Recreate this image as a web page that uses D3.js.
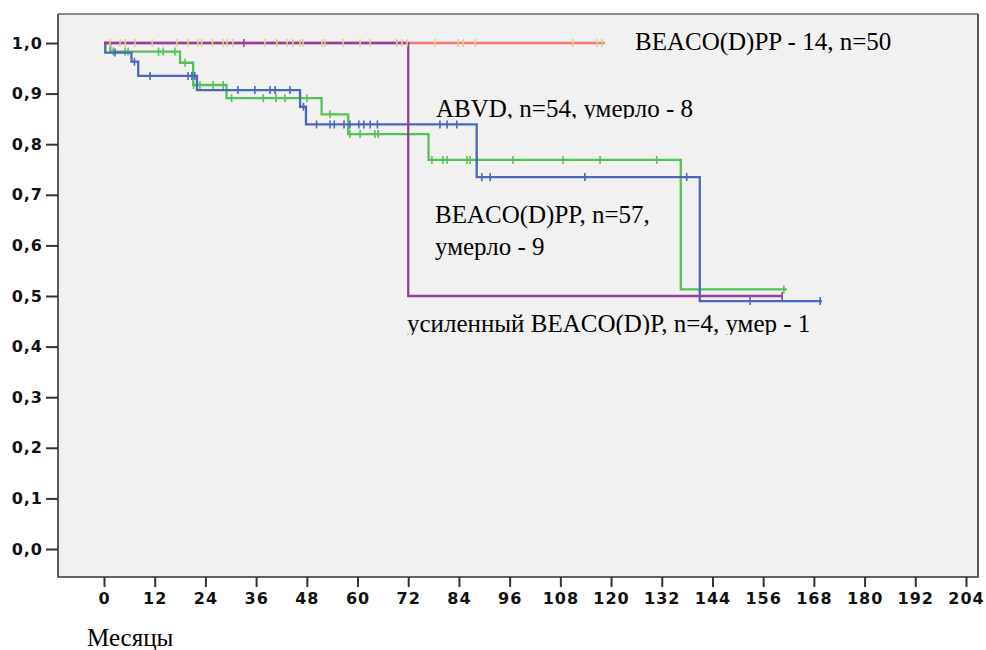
<!DOCTYPE html>
<html>
<head>
<meta charset="utf-8">
<script src="https://cdn.jsdelivr.net/npm/d3@7"></script>
<style>
  html, body { margin: 0; padding: 0; background: #ffffff; }
  svg { display: block; }
</style>
</head>
<body>
<svg id="chart" width="986" height="650"></svg>
<script>
// ---------------- data ----------------
const xTicks = [0, 12, 24, 36, 48, 60, 72, 84, 96, 108, 120, 132, 144, 156, 168, 180, 192, 204];
const yTicks = [0, 0.1, 0.2, 0.3, 0.4, 0.5, 0.6, 0.7, 0.8, 0.9, 1.0];

// ABVD, n=54 (blue)
const abvdEventTimes = [0.3, 6.5, 8.1, 22, 46.4, 47.8, 88.2, 141];
const abvdSurvival   = [0.981, 0.963, 0.935, 0.907, 0.874, 0.839, 0.735, 0.49];
const abvdEnd = 169.9;
const abvdCensored = [2.6, 7.2, 10.9, 19.9, 20.8, 21.5, 31.7, 35.7, 39.3, 40.5, 44, 47.2, 50.3, 53.5, 54.5, 56.8, 58.2, 60.3, 61.5, 63, 64.7, 79.5, 81.2, 83.5, 89.4, 91.4, 113.8, 137.9, 152.9, 169.5];

// BEACO(D)PP, n=57 (green)
const beacoEventTimes = [1.5, 18, 21.1, 29, 51.5, 57.8, 76.8, 136.5];
const beacoSurvival   = [0.983, 0.961, 0.917, 0.891, 0.859, 0.82, 0.769, 0.513];
const beacoEnd = 161.6;
const beacoCensored = [2.2, 5, 5.7, 12.9, 14, 16.8, 19.2, 21.2, 22.7, 25.8, 28.2, 30.2, 37.7, 40.7, 42.8, 48, 53.5, 58.2, 60.6, 64.1, 64.9, 77.6, 80.2, 81.2, 85.9, 86.6, 88.3, 96.8, 108.6, 117.4, 130.8, 160.9];

// BEACO(D)PP - 14, n=50 (red line, tan censor marks)
const b14EventTimes = [];
const b14Survival   = [];
const b14End = 118.5;
const b14Censored = [1.4, 3.8, 5, 7.3, 11.4, 17.3, 19.9, 22.2, 23.1, 25.7, 28.2, 29.1, 30.5, 38.1, 40.9, 43.3, 44.7, 46.4, 47.1, 51.6, 52.3, 56.6, 60.6, 63, 69.3, 70.5, 71.7, 78.3, 83.8, 85, 87.8, 111, 116.7, 117.9];

// усиленный BEACO(D)P, n=4 (purple)
const intEventTimes = [72];
const intSurvival   = [0.5];
const intEnd = 160.5;
const intCensored = [33.1, 160.5];

const labels = [
  { text: "BEACO(D)PP - 14, n=50", x: 635, y: 50, clip: null },
  { text: "ABVD, n=54, умерло - 8", x: 436, y: 117, clip: 118.5 },
  { text: "BEACO(D)PP, n=57,", x: 435, y: 223, clip: null },
  { text: "умерло - 9", x: 435, y: 255, clip: null },
  { text: "усиленный BEACO(D)P, n=4, умер - 1", x: 407, y: 332, clip: 335 }
];

// ---------------- drawing ----------------
const svg = d3.select("#chart");
const frame = { left: 58, top: 14, right: 978, bottom: 577 };

const x = d3.scaleLinear().domain([0, 204]).range([104, 966]);
const y = d3.scaleLinear().domain([0, 1]).range([549, 43]);

// plot background
svg.append("rect")
  .attr("x", frame.left).attr("y", frame.top)
  .attr("width", frame.right - frame.left).attr("height", frame.bottom - frame.top)
  .attr("fill", "#f1f1f1");

function stepPoints(times, surv, end) {
  const pts = [[0, 1]];
  let s = 1;
  times.forEach((t, i) => {
    pts.push([t, s]);
    s = surv[i];
    pts.push([t, s]);
  });
  pts.push([end, s]);
  return pts;
}
function survAt(times, surv, t) {
  let s = 1;
  times.forEach((tt, i) => { if (tt <= t) s = surv[i]; });
  return s;
}
const line = d3.line().x(d => x(d[0])).y(d => y(d[1]));

function drawSeries(times, surv, end, color, width) {
  svg.append("path")
    .attr("d", line(stepPoints(times, surv, end)))
    .attr("fill", "none")
    .attr("stroke", color)
    .attr("stroke-width", width)
    .attr("stroke-linejoin", "miter");
}
function drawCensors(times, surv, cens, color) {
  svg.append("g").selectAll("line").data(cens).join("line")
    .attr("x1", d => x(d)).attr("x2", d => x(d))
    .attr("y1", d => y(survAt(times, surv, d)) - 4)
    .attr("y2", d => y(survAt(times, surv, d)) + 4)
    .attr("stroke", color).attr("stroke-width", 1.6);
}

const cBlue = "#4a67bd", cGreen = "#55c255", cRed = "#f07575", cPurple = "#9a3d9a", cTan = "#e2cc98";

drawSeries(beacoEventTimes, beacoSurvival, beacoEnd, cGreen, 2.3);
drawCensors(beacoEventTimes, beacoSurvival, beacoCensored, cGreen);
drawSeries(abvdEventTimes, abvdSurvival, abvdEnd, cBlue, 2.3);
drawCensors(abvdEventTimes, abvdSurvival, abvdCensored, cBlue);
drawSeries(b14EventTimes, b14Survival, b14End, cRed, 2.3);
drawSeries(intEventTimes, intSurvival, intEnd, cPurple, 2.3);
drawCensors(intEventTimes, intSurvival, intCensored, cPurple);
drawCensors(b14EventTimes, b14Survival, b14Censored, cTan);

// frame
svg.append("line").attr("x1", frame.left).attr("x2", frame.right).attr("y1", frame.top).attr("y2", frame.top)
  .attr("stroke", "#8a8a8a").attr("stroke-width", 2);
svg.append("path")
  .attr("d", `M${frame.left},${frame.top}V${frame.bottom}H${frame.right}V${frame.top}`)
  .attr("fill", "none").attr("stroke", "#333").attr("stroke-width", 1.6);

// axes
const fmt = d => d.toFixed(1).replace(".", ",");
const yAxis = svg.append("g").attr("transform", `translate(${frame.left},0)`)
  .call(d3.axisLeft(y).tickValues(yTicks).tickFormat(fmt).tickSize(12).tickPadding(3));
const xAxis = svg.append("g").attr("transform", `translate(0,${frame.bottom})`)
  .call(d3.axisBottom(x).tickValues(xTicks).tickFormat(d3.format("d")).tickSize(10).tickPadding(6));
[yAxis, xAxis].forEach(g => {
  g.select(".domain").remove();
  g.selectAll(".tick line").attr("stroke", "#333").attr("stroke-width", 2);
  g.selectAll(".tick text")
    .attr("fill", "#111")
    .style("font-family", "'DejaVu Sans', Verdana, sans-serif")
    .style("font-weight", "bold")
    .style("font-size", "16px")
    .style("letter-spacing", "1px");
});

// annotation labels
const defs = svg.append("defs");
labels.forEach((l, i) => {
  const t = svg.append("text")
    .attr("x", l.x).attr("y", l.y)
    .attr("fill", "#000")
    .style("font-family", "'Liberation Serif', 'Times New Roman', serif")
    .style("font-size", "25px")
    .text(l.text);
  if (l.clip !== null) {
    defs.append("clipPath").attr("id", "clip" + i)
      .append("rect").attr("x", 0).attr("y", 0).attr("width", 986).attr("height", l.clip);
    t.attr("clip-path", `url(#clip${i})`);
  }
});

// x-axis title
svg.append("text")
  .attr("x", 87).attr("y", 646)
  .attr("fill", "#000")
  .style("font-family", "'Liberation Serif', 'Times New Roman', serif")
  .style("font-size", "25px")
  .text("Месяцы");
</script>
</body>
</html>
